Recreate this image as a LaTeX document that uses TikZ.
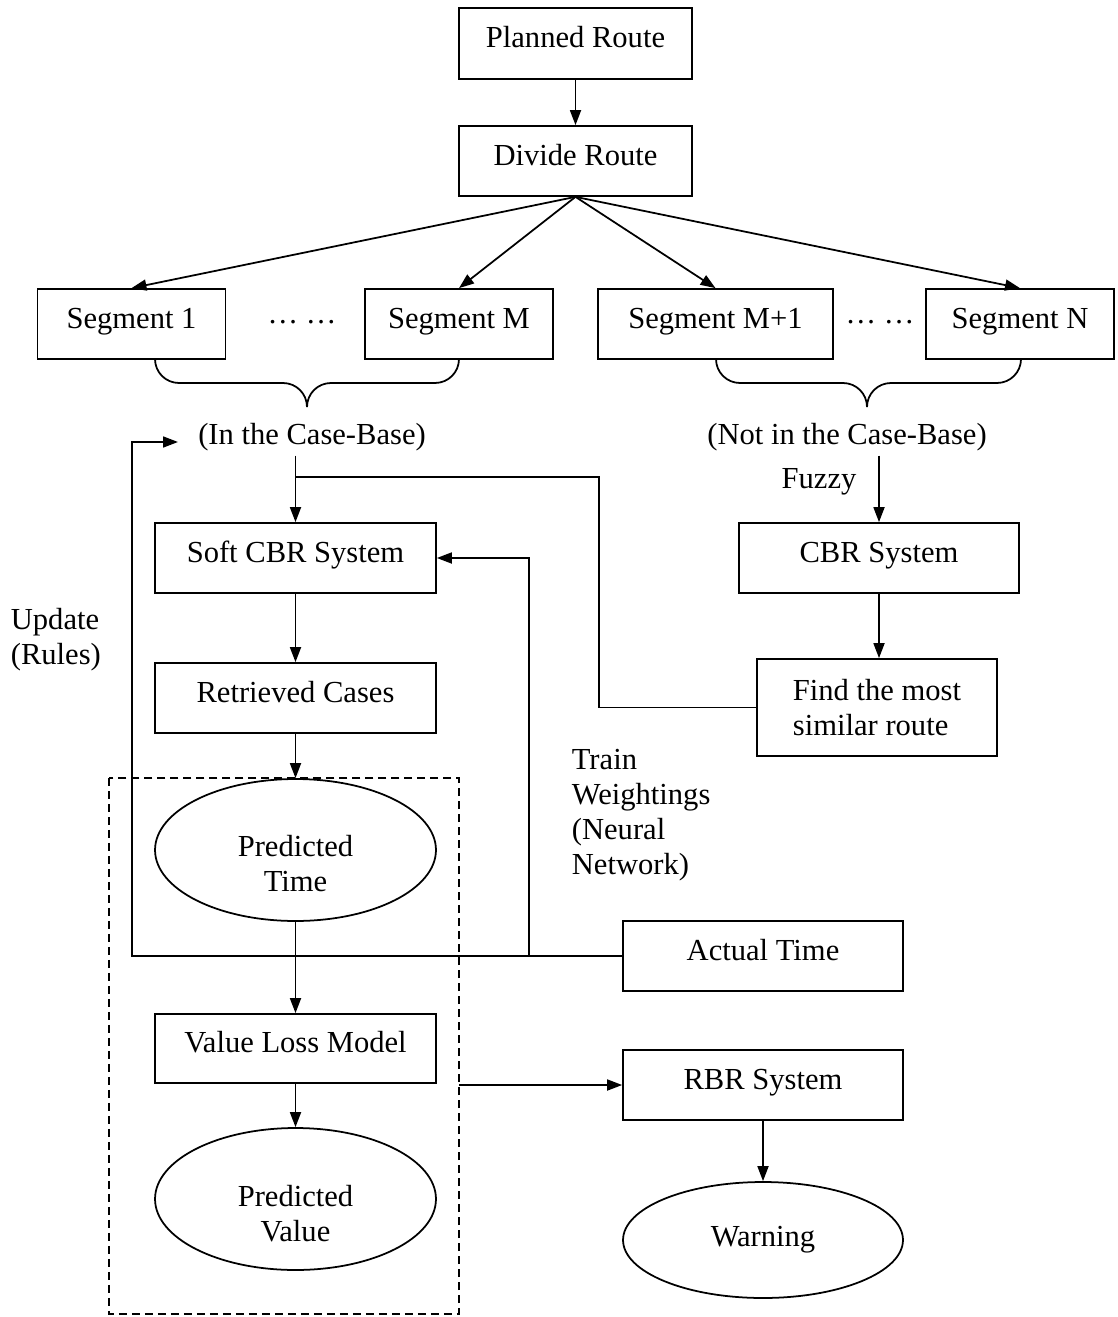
\documentclass[tikz,border=0pt]{standalone}
\usepackage{fontspec}
\setmainfont{Liberation Serif}
\usetikzlibrary{arrows.meta,shapes.geometric}
\newcommand{\lbl}{\fontsize{17.4pt}{19.9pt}\selectfont}
\begin{document}
\begin{tikzpicture}[x=0.02cm,y=-0.02cm,
  line width=1pt,
  arr/.style={-{Triangle[length=0.3cm,width=0.22cm]}},
  box/.style={draw, rectangle, inner sep=0pt, minimum height=1.4cm, font=\lbl, align=center},
  lift/.style={text height=0.42cm, text depth=0.25cm},
  oval/.style={draw, ellipse, inner sep=0pt, font=\lbl, align=center},
  txt/.style={inner sep=0pt, font=\lbl, align=left}]
\useasboundingbox (0,0) rectangle (1117,1317);

% top of the flow
\node[box, lift, minimum width=4.66cm, minimum height=1.42cm] (plan) at (575.5,43.5) {Planned Route};
\node[box, lift, minimum width=4.66cm] (divide) at (575.5,161) {Divide Route};

% route segments
\node[box, lift, minimum width=3.76cm] (seg1) at (131.5,324) {Segment 1};
\node[box, lift, minimum width=3.76cm] (segM) at (459,324) {Segment M};
\node[box, lift, minimum width=4.7cm] (segM1) at (715.5,324) {Segment M+1};
\node[box, lift, minimum width=3.76cm] (segN) at (1020,324) {Segment N};
\node[txt] (dotsA) at (302,322) {… …};
\node[txt] (dotsB) at (880,322) {… …};

\draw[arr] (divide.south) -- (seg1.north);
\draw[arr] (divide.south) -- (segM.north);
\draw[arr] (divide.south) -- (segM1.north);
\draw[arr] (divide.south) -- (segN.north);
\draw[arr] (plan.south) -- (divide.north);

% braces under the segment groups
\draw (155,359) to[out=-90,in=180] (179,383) -- (283,383) to[out=0,in=90] (307,407);
\draw (307,407) to[out=90,in=180] (331,383) -- (435,383) to[out=0,in=-90] (459,359);
\draw (716,359) to[out=-90,in=180] (740,383) -- (843,383) to[out=0,in=90] (867,407);
\draw (867,407) to[out=90,in=180] (891,383) -- (997,383) to[out=0,in=-90] (1021,359);

\node[txt] (inCB) at (312,437) {(In the Case-Base)};
\node[txt] (notCB) at (847,437) {(Not in the Case-Base)};
\node[txt] (fuzzy) at (819,482) {Fuzzy};

% case-based reasoning
\node[box, lift, minimum width=5.62cm] (soft) at (295.5,558) {Soft CBR System};
\node[box, lift, minimum width=5.6cm] (cbr) at (879,558) {CBR System};
\node[box, lift, minimum width=5.62cm] (retr) at (295.5,698) {Retrieved Cases};
\node[box, minimum width=4.8cm, minimum height=1.94cm, align=left] (find) at (877,707.5) {Find the most\\similar route};

\node[txt, anchor=west] (update) at (10,640) {Update\\(Rules)};
\node[txt, anchor=west] (train) at (571,815) {Train\\Weightings\\(Neural\\Network)};

% prediction
\node[oval, minimum width=5.62cm, minimum height=2.84cm] (ptime) at (295.5,850) {};
\node[txt, align=center] (ptimeT) at (295.5,864) {Predicted\\Time};
\node[box, lift, minimum width=5.6cm] (actual) at (763,956) {Actual Time};
\node[box, lift, minimum width=5.62cm, minimum height=1.38cm] (vlm) at (295.5,1048.5) {Value Loss Model};
\node[oval, minimum width=5.62cm, minimum height=2.84cm] (pvalue) at (295.5,1199) {};
\node[txt, align=center] (pvalueT) at (295.5,1214) {Predicted\\Value};
\node[box, lift, minimum width=5.6cm] (rbr) at (763,1085) {RBR System};
\node[oval, minimum width=5.6cm, minimum height=2.32cm] (warn) at (763,1240) {Warning};

\draw[dash pattern=on 0.16cm off 0.1cm] (109,778) rectangle (459,1314);

% connectors
\coordinate (jn) at (599,477);
\coordinate (fbL) at (132,956);
\coordinate (fbT) at (178,442);
\coordinate (tw) at (529,956);
\coordinate (dashR) at (459,1085);

\draw[arr] (soft.north |- inCB.south) ++(0,4) -- (soft.north);
\draw (find.west) -| (jn) -- (jn -| soft.north);
\draw[arr] (cbr.north |- notCB.south) ++(0,4) -- (cbr.north);
\draw[arr] (cbr.south) -- (cbr.south |- find.north);
\draw[arr] (soft.south) -- (retr.north);
\draw[arr] (retr.south) -- (ptime.north);
\draw[arr] (ptime.south) -- (vlm.north);
\draw[arr] (vlm.south) -- (pvalue.north);
\draw[arr] (rbr.south) -- (warn.north);
\draw[arr] (actual.west) -- (fbL) |- (fbT);
\draw[arr] (tw) |- (soft.east);
\draw[arr] (dashR) -- (rbr.west);
\end{tikzpicture}
\end{document}
